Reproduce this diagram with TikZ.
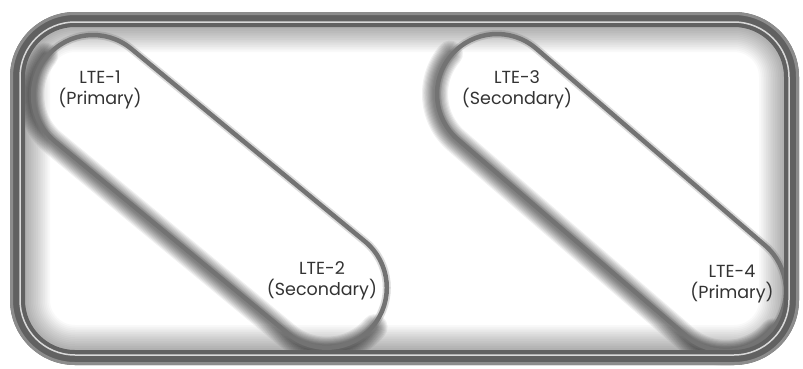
\documentclass[tikz,border=0pt]{standalone}
\usepackage{fontspec}
\setmainfont{Poppins}
\tikzset{
  capline/.style={draw=black!55, line width=4.5pt},
  capblur/.style={draw=black!55, line width=8pt, opacity=0.25},
  lbl/.style={align=center, text=black!80, inner sep=0pt, font=\fontsize{17.5}{21}\selectfont},
  framepath/.style={rounded corners=57.5pt}
}
\begin{document}
\begin{tikzpicture}[x=1pt,y=-1pt]
\useasboundingbox (0,0) rectangle (803,368);
\fill[white] (0,0) rectangle (803,368);
% inner shadow of the frame
\begin{scope}
  \clip[framepath] (17.5,19.5) rectangle (791.5,357.5);
  \foreach \i in {1,...,14}{
    \pgfmathsetmacro\wd{16+3.5*\i}
    \draw[black, opacity=0.022, line width=\wd pt, framepath] (17.5,19.5) rectangle (791.5,357.5);
  }
\end{scope}
% capsules
\foreach \cx/\cy/\ang/\len in {93/95/39.5/303, 497/94/40.7/302}{
  \begin{scope}[shift={(\cx,\cy)}, rotate=-\ang]
    \foreach \i in {1,...,10}{
      \pgfmathsetmacro\wd{4+2.2*\i}
      \draw[black, opacity=0.06, line width=\wd pt, rounded corners=62pt, line cap=round]
        (-62,0) -- (-62,62) -- (\len+62,62) -- (\len+62,0);
    }
    \draw[capblur, rounded corners=60pt] (-60,-60) rectangle (\len+60,60);
    \draw[capline, rounded corners=60pt] (-60,-60) rectangle (\len+60,60);
  \end{scope}
}
% frame
\draw[line width=15pt, draw=black!62, framepath] (17.5,19.5) rectangle (791.5,357.5);
\draw[line width=3pt, draw=black!45, rounded corners=63.5pt] (11.5,13.5) rectangle (797.5,363.5);
\draw[line width=1.5pt, draw=black!15, rounded corners=55pt] (20,22) rectangle (789,355);
% labels
\node[lbl] (lte1) at (100,89.5) {LTE-1\\(Primary)};
\node[lbl] (lte2) at (322,281) {LTE-2\\(Secondary)};
\node[lbl] (lte3) at (517,90) {LTE-3\\(Secondary)};
\node[lbl] (lte4) at (732,284) {LTE-4\\(Primary)};
\end{tikzpicture}
\end{document}
